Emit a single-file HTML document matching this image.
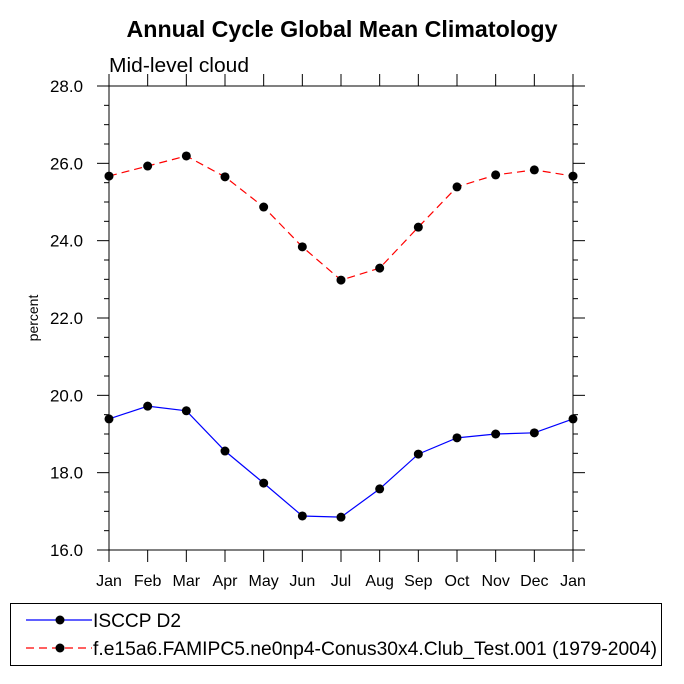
<!DOCTYPE html>
<html><head><meta charset="utf-8"><style>
body{margin:0;background:#fff;}
svg{display:block;font-family:"Liberation Sans",sans-serif;}
</style></head><body>
<svg width="684" height="684" viewBox="0 0 684 684">
<text x="342" y="37" text-anchor="middle" font-size="23" font-weight="bold" textLength="431" lengthAdjust="spacingAndGlyphs">Annual Cycle Global Mean Climatology</text>
<text x="109" y="72" font-size="20" textLength="140" lengthAdjust="spacingAndGlyphs">Mid-level cloud</text>
<text transform="translate(38,318) rotate(-90)" text-anchor="middle" font-size="14">percent</text>
<g id="axes"></g>
<g id="series"></g>
<g>
<rect x="10.5" y="603.5" width="651" height="62" fill="none" stroke="#000" stroke-width="1"/>
<g>
<line x1="26" y1="620" x2="92" y2="620" stroke="#0000ff" stroke-width="1.2"/>
<circle cx="60" cy="620" r="4.5" fill="#000"/>
<text x="93" y="627" font-size="19" textLength="88" lengthAdjust="spacingAndGlyphs">ISCCP D2</text></g>
<g>
<line x1="26" y1="648" x2="92" y2="648" stroke="#ff0000" stroke-width="1.2" stroke-dasharray="8,5"/>
<circle cx="60" cy="648" r="4.5" fill="#000"/>
<text x="93" y="655" font-size="19" textLength="564" lengthAdjust="spacingAndGlyphs">f.e15a6.FAMIPC5.ne0np4-Conus30x4.Club_Test.001 (1979-2004)</text></g>
</g>
</svg>
<script>
const months=["Jan","Feb","Mar","Apr","May","Jun","Jul","Aug","Sep","Oct","Nov","Dec","Jan"];
const obsValues=[19.39,19.72,19.60,18.56,17.73,16.88,16.85,17.58,18.48,18.90,19.00,19.03,19.39];
const modelValues=[25.67,25.93,26.19,25.65,24.87,23.84,22.98,23.29,24.35,25.39,25.70,25.83,25.67];
const yTicks=[16,18,20,22,24,26,28];
const yTickLabels=["16.0","18.0","20.0","22.0","24.0","26.0","28.0"];
const NS="http://www.w3.org/2000/svg";
const L=109,R=573,T=86,B=550,ymin=16,ymax=28;
const xs=i=>L+(R-L)*i/(months.length-1);
const ys=v=>B-(B-T)*(v-ymin)/(ymax-ymin);
function mk(tag,attrs,parent){const e=document.createElementNS(NS,tag);for(const k in attrs)e.setAttribute(k,attrs[k]);parent.appendChild(e);return e;}
const ax=document.getElementById('axes');
const frame=mk('rect',{x:L,y:T,width:R-L,height:B-T,fill:'none',stroke:'#000','stroke-width':1},ax);


for(let v=ymin;v<=ymax+1e-9;v+=0.5){
  const major=Math.abs(v-Math.round(v/2)*2)<1e-9;const len=major?12:5;const y=ys(v);
  mk('line',{x1:L-len,y1:y,x2:L,y2:y,stroke:'#000','stroke-width':1},ax);
  mk('line',{x1:R,y1:y,x2:R+len,y2:y,stroke:'#000','stroke-width':1},ax);
}
yTicks.forEach((v,i)=>{const t=mk('text',{x:L-26,y:ys(v)+6,'text-anchor':'end','font-size':17,textLength:33,lengthAdjust:'spacingAndGlyphs'},ax);t.textContent=yTickLabels[i];

});
months.forEach((m,i)=>{const x=xs(i);
  mk('line',{x1:x,y1:B,x2:x,y2:B+12,stroke:'#000','stroke-width':1},ax);
  mk('line',{x1:x,y1:T-12,x2:x,y2:T,stroke:'#000','stroke-width':1},ax);
  const t=mk('text',{x:x,y:B+36,'text-anchor':'middle','font-size':16},ax);t.textContent=m;
  
  });
const sg=document.getElementById('series');
function series(vals,color,dash,name){
  const g=mk('g',{},sg);
  
  
  const pts=vals.map((v,i)=>xs(i)+','+ys(v)).join(' ');
  const a={points:pts,fill:'none',stroke:color,'stroke-width':1.2};if(dash)a['stroke-dasharray']=dash;
  mk('polyline',a,g);
  vals.forEach((v,i)=>{const c=mk('circle',{cx:xs(i),cy:ys(v),r:4.5,fill:'#000'},g);
    
    });
}
series(modelValues,'#ff0000','8,5','model-series');
series(obsValues,'#0000ff',null,'isccp-series');
</script>
</body></html>
